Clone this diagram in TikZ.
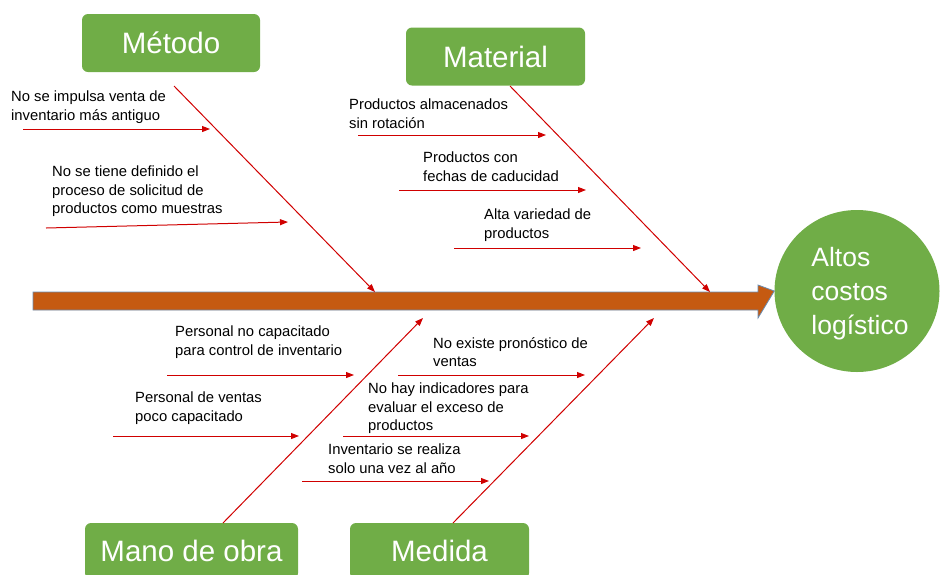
\documentclass[tikz,border=0pt]{standalone}
\usepackage{fontspec}
\setmainfont{Liberation Sans}
\usetikzlibrary{arrows.meta,shapes.geometric}
\definecolor{boxgreen}{HTML}{70AD47}
\definecolor{bonered}{HTML}{D00000}
\definecolor{spinefill}{HTML}{C55A11}
\definecolor{spineedge}{HTML}{6A8CB0}
\begin{document}
\begin{tikzpicture}[x=1pt,y=-1pt,
  catbox/.style={fill=boxgreen, rounded corners=6pt, text=white,
    font=\fontsize{29.5}{33}\selectfont, minimum height=58pt, inner sep=0pt},
  causetext/.style={anchor=north west, align=left, inner sep=0pt,
    font=\fontsize{14.8}{18.2}\selectfont},
  bone/.style={draw=bonered, line width=1pt, -{Triangle[length=8pt,width=6pt]}},
  ]
\useasboundingbox (0,0) rectangle (942,574);
\clip (0,0) rectangle (942,574);

% category boxes
\node[catbox, minimum width=178pt] (metodo) at (171,43) {Método};
\node[catbox, minimum width=179pt] (material) at (495.5,56.5) {Material};
\node[catbox, minimum width=213pt, minimum height=56pt] (mano) at (191.5,551) {Mano de obra};
\node[catbox, minimum width=179pt, minimum height=56pt] (medida) at (439.5,551) {Medida};

% effect
\node[ellipse, fill=boxgreen, minimum width=165pt, minimum height=162pt, inner sep=0pt,
  text=white, align=left, font=\fontsize{26.5}{34}\selectfont] (effect) at (857,291) {};
\node[text=white, align=left, inner sep=0pt, font=\fontsize{26.5}{34}\selectfont]
  (effecttext) at (860,294) {Altos\\costos\\logístico};

% spine
\coordinate (s0) at (33,292);
\draw[fill=spinefill, draw=spineedge, line width=0.8pt]
  (s0) -- (758,292) -- (758,285) -- (effect.west) -- (758,318) -- (758,310) -- (33,310) -- cycle;

% main bones
\coordinate (b1s) at (174,86);  \coordinate (b1e) at (375,292);
\coordinate (b2s) at (510,86);  \coordinate (b2e) at (710,292);
\coordinate (b3s) at (223,523); \coordinate (b3e) at (423,318);
\coordinate (b4s) at (453,523); \coordinate (b4e) at (654,318);
\draw[bone] (b1s) -- (b1e);
\draw[bone] (b2s) -- (b2e);
\draw[bone] (b3s) -- (b3e);
\draw[bone] (b4s) -- (b4e);

% causes
\node[causetext] (t1) at (11,91) {No se impulsa venta de\\inventario más antiguo};
\coordinate (a1s) at (23,129); \coordinate (a1e) at (210,129);
\draw[bone] (a1s) -- (a1e);

\node[causetext] (t2) at (52,166) {No se tiene definido el\\proceso de solicitud de\\productos como muestras};
\coordinate (a2s) at (46,228); \coordinate (a2e) at (288,222);
\draw[bone] (a2s) -- (a2e);

\node[causetext] (t3) at (349,99) {Productos almacenados\\sin rotación};
\coordinate (a3s) at (358,135); \coordinate (a3e) at (546,135);
\draw[bone] (a3s) -- (a3e);

\node[causetext] (t4) at (423,152) {Productos con\\fechas de caducidad};
\coordinate (a4s) at (399,190); \coordinate (a4e) at (586,190);
\draw[bone] (a4s) -- (a4e);

\node[causetext] (t5) at (484,209) {Alta variedad de\\productos};
\coordinate (a5s) at (454,248); \coordinate (a5e) at (641,248);
\draw[bone] (a5s) -- (a5e);

\node[causetext] (t6) at (175,326) {Personal no capacitado\\para control de inventario};
\coordinate (a6s) at (167,375); \coordinate (a6e) at (354,375);
\draw[bone] (a6s) -- (a6e);

\node[causetext] (t7) at (135,392) {Personal de ventas\\poco capacitado};
\coordinate (a7s) at (113,436); \coordinate (a7e) at (299,436);
\draw[bone] (a7s) -- (a7e);

\node[causetext] (t8) at (433,337) {No existe pronóstico de\\ventas};
\coordinate (a8s) at (398,375); \coordinate (a8e) at (585,375);
\draw[bone] (a8s) -- (a8e);

\node[causetext] (t9) at (368,383) {No hay indicadores para\\evaluar el exceso de\\productos};
\coordinate (a9s) at (343,436); \coordinate (a9e) at (529,436);
\draw[bone] (a9s) -- (a9e);

\node[causetext] (t10) at (328,444) {Inventario se realiza\\solo una vez al año};
\coordinate (a10s) at (302,481); \coordinate (a10e) at (489,481);
\draw[bone] (a10s) -- (a10e);
\end{tikzpicture}
\end{document}
